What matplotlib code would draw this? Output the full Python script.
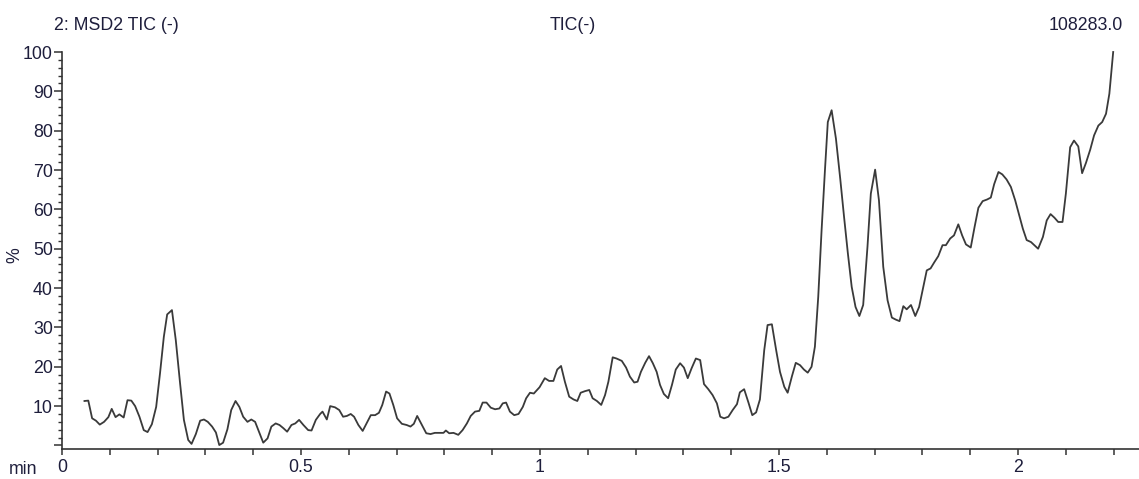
import matplotlib
matplotlib.use("Agg")
import matplotlib.pyplot as plt
from matplotlib.ticker import MultipleLocator, FixedLocator, FixedFormatter

plt.rcParams['font.family'] = ['Liberation Sans', 'DejaVu Sans']

# Retention time (min) and relative intensity (%)
times = [
    0.047, 0.055, 0.063, 0.071, 0.079, 0.088, 0.097, 0.104, 0.112, 0.120,
    0.129, 0.137, 0.145, 0.153, 0.162, 0.171, 0.179, 0.188, 0.197, 0.205,
    0.213, 0.220, 0.230, 0.238, 0.247, 0.255, 0.264, 0.271, 0.280, 0.289,
    0.297, 0.305, 0.314, 0.322, 0.329, 0.337, 0.346, 0.354, 0.363, 0.371,
    0.379, 0.388, 0.396, 0.404, 0.413, 0.421, 0.430, 0.438, 0.447, 0.455,
    0.463, 0.471, 0.480, 0.488, 0.496, 0.505, 0.515, 0.522, 0.531, 0.540,
    0.545, 0.554, 0.561, 0.571, 0.580, 0.588, 0.596, 0.604, 0.611, 0.620,
    0.629, 0.637, 0.646, 0.655, 0.663, 0.670, 0.678, 0.685, 0.693, 0.701,
    0.711, 0.721, 0.729, 0.736, 0.743, 0.753, 0.762, 0.771, 0.780, 0.789,
    0.798, 0.803, 0.810, 0.819, 0.829, 0.838, 0.847, 0.855, 0.864, 0.873,
    0.880, 0.888, 0.897, 0.906, 0.915, 0.922, 0.929, 0.937, 0.946, 0.955,
    0.964, 0.971, 0.979, 0.987, 0.999, 1.010, 1.019, 1.028, 1.036, 1.044,
    1.052, 1.061, 1.070, 1.078, 1.085, 1.094, 1.103, 1.110, 1.119, 1.128,
    1.136, 1.143, 1.152, 1.160, 1.171, 1.180, 1.188, 1.197, 1.204, 1.211,
    1.220, 1.228, 1.236, 1.244, 1.251, 1.259, 1.268, 1.276, 1.284, 1.293,
    1.301, 1.309, 1.317, 1.326, 1.335, 1.343, 1.352, 1.361, 1.370, 1.377,
    1.385, 1.394, 1.403, 1.412, 1.418, 1.427, 1.436, 1.444, 1.452, 1.460,
    1.469, 1.476, 1.485, 1.494, 1.502, 1.511, 1.518, 1.527, 1.535, 1.544,
    1.552, 1.560, 1.568, 1.575, 1.582, 1.589, 1.596, 1.602, 1.610, 1.619,
    1.628, 1.636, 1.644, 1.652, 1.660, 1.668, 1.676, 1.685, 1.692, 1.701,
    1.709, 1.718, 1.727, 1.736, 1.744, 1.752, 1.760, 1.767, 1.776, 1.785,
    1.793, 1.801, 1.809, 1.817, 1.825, 1.833, 1.842, 1.849, 1.858, 1.866,
    1.875, 1.883, 1.891, 1.901, 1.909, 1.917, 1.926, 1.935, 1.943, 1.950,
    1.959, 1.967, 1.976, 1.985, 1.994, 2.002, 2.010, 2.018, 2.027, 2.034,
    2.042, 2.052, 2.060, 2.068, 2.076, 2.084, 2.093, 2.100, 2.109, 2.117,
    2.126, 2.134, 2.142, 2.151, 2.159, 2.168, 2.176, 2.184, 2.191, 2.199,
]
intensity = [
    11.3, 11.4, 6.9, 6.3, 5.3, 6.0, 7.2, 9.3, 7.2, 7.9,
    7.1, 11.5, 11.4, 10.0, 7.3, 3.9, 3.4, 5.4, 9.8, 18.3,
    27.6, 33.3, 34.4, 26.8, 15.8, 6.5, 1.4, 0.4, 2.9, 6.3,
    6.6, 6.0, 4.8, 3.3, 0.1, 0.7, 4.1, 9.0, 11.3, 9.8,
    7.3, 6.0, 6.6, 6.0, 3.2, 0.7, 1.8, 4.8, 5.6, 5.2,
    4.4, 3.5, 5.2, 5.6, 6.5, 5.2, 3.9, 3.8, 6.5, 8.0,
    8.6, 6.6, 10.0, 9.7, 9.0, 7.3, 7.5, 8.0, 7.3, 5.2,
    3.7, 5.6, 7.7, 7.7, 8.3, 10.3, 13.7, 13.2, 10.3, 6.9,
    5.5, 5.2, 4.8, 5.5, 7.5, 5.2, 3.1, 2.9, 3.2, 3.2,
    3.2, 3.8, 3.1, 3.2, 2.7, 3.9, 5.6, 7.5, 8.6, 8.8,
    10.9, 10.9, 9.6, 9.2, 9.4, 10.7, 10.9, 8.6, 7.7, 8.0,
    9.8, 12.0, 13.4, 13.2, 14.8, 17.1, 16.4, 16.4, 19.3, 20.2,
    16.2, 12.4, 11.7, 11.3, 13.4, 13.8, 14.1, 12.0, 11.3, 10.3,
    12.8, 16.2, 22.4, 22.1, 21.5, 19.8, 17.5, 16.0, 16.2, 18.7,
    21.0, 22.7, 20.9, 18.7, 15.4, 13.1, 12.0, 15.4, 19.3, 20.9,
    19.8, 17.1, 19.6, 22.1, 21.7, 15.6, 14.3, 12.8, 10.7, 7.3,
    6.9, 7.3, 9.0, 10.5, 13.5, 14.3, 10.9, 7.7, 8.4, 11.7,
    24.2, 30.6, 30.8, 24.2, 18.7, 14.9, 13.4, 17.6, 21.0, 20.4,
    19.3, 18.5, 20.0, 25.1, 37.8, 54.7, 69.9, 82.2, 85.2, 78.0,
    67.8, 58.1, 48.8, 40.3, 35.2, 32.9, 35.7, 50.5, 64.0, 70.1,
    62.3, 45.4, 36.9, 32.5, 32.0, 31.6, 35.4, 34.6, 35.7, 32.9,
    35.2, 39.9, 44.5, 45.0, 46.6, 48.1, 50.9, 50.9, 52.6, 53.4,
    56.2, 53.4, 51.1, 50.3, 55.5, 60.4, 62.1, 62.5, 63.0, 66.4,
    69.5, 68.9, 67.6, 65.7, 62.3, 58.7, 55.1, 52.2, 51.7, 50.9,
    50.0, 53.0, 57.2, 58.8, 57.9, 56.8, 56.8, 64.0, 75.8, 77.5,
    76.0, 69.2, 71.8, 75.2, 78.8, 81.3, 82.2, 84.3, 89.4, 100.0,
]

x_tick_values = [0, 0.5, 1, 1.5, 2]
x_tick_labels = ["0", "0.5", "1", "1.5", "2"]
y_tick_values = [10, 20, 30, 40, 50, 60, 70, 80, 90, 100]

header_left = "2: MSD2 TIC (-)"
header_center = "TIC(-)"
header_right = "108283.0"

W, H = 1139, 479
fig = plt.figure(figsize=(W / 100, H / 100), dpi=100)
ax = fig.add_axes([62 / W, 30 / H, (W - 62) / W, 397 / H])

ax.plot(times, intensity, color="#3a3a3a", lw=1.3, clip_on=False)

ax.set_xlim(0, 2.253)
ax.set_ylim(-0.9, 100)

for s in ["top", "right"]:
    ax.spines[s].set_visible(False)
for s in ["left", "bottom"]:
    ax.spines[s].set_color("#333333")
    ax.spines[s].set_linewidth(1.2)

txt_color = "#1e1e3c"
# x ticks: every 0.1 min, labels at 0.5 steps
ax.xaxis.set_major_locator(FixedLocator(x_tick_values))
ax.xaxis.set_major_formatter(FixedFormatter(x_tick_labels))
ax.xaxis.set_minor_locator(MultipleLocator(0.1))
ax.tick_params(axis="x", which="major", direction="out", length=4.6, width=1.1,
               color="#333333", pad=2.5, labelsize=12.8, labelcolor=txt_color)
ax.tick_params(axis="x", which="minor", direction="out", length=4.2, width=1.1,
               color="#333333")

# y ticks
ax.yaxis.set_major_locator(FixedLocator([0] + y_tick_values))
ax.yaxis.set_major_formatter(FixedFormatter([""] + [str(v) for v in y_tick_values]))
ax.yaxis.set_minor_locator(MultipleLocator(2))
ax.tick_params(axis="y", which="major", direction="out", length=5.8, width=1.1,
               color="#333333", pad=0.8, labelsize=12.8, labelcolor=txt_color)
ax.tick_params(axis="y", which="minor", direction="out", length=3.0, width=1.0,
               color="#333333")

fig.text(54 / W, 1 - 25 / H, header_left, ha="left", va="center",
         fontsize=12.8, color=txt_color)
fig.text(573 / W, 1 - 25 / H, header_center, ha="center", va="center",
         fontsize=12.8, color=txt_color)
fig.text(1123 / W, 1 - 25 / H, header_right, ha="right", va="center",
         fontsize=12.8, color=txt_color)
fig.text(15 / W, 1 - 255 / H, "%", rotation=90, ha="center", va="center",
         fontsize=12.8, color=txt_color)
fig.text(23 / W, 1 - 469 / H, "min", ha="center", va="center",
         fontsize=12.8, color=txt_color)

fig.savefig("out.png", dpi=100)
